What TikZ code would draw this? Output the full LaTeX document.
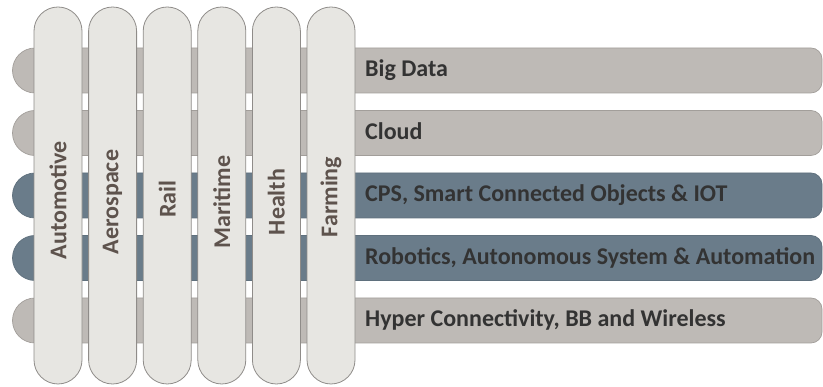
\documentclass[tikz,border=0pt]{standalone}
\usepackage{fontspec}
\setmainfont{Carlito}
\definecolor{vfill}{HTML}{E7E6E2}
\definecolor{vline}{HTML}{8F8C89}
\definecolor{lfill}{HTML}{BEBAB6}
\definecolor{lline}{HTML}{A29E9A}
\definecolor{dfill}{HTML}{6A7C8A}
\definecolor{dline}{HTML}{5F707D}
\definecolor{htext}{HTML}{333333}
\definecolor{vtext}{HTML}{5E534D}
\tikzset{
  lightbar/.style={fill=lfill, draw=lline, line width=0.7pt},
  darkbar/.style={fill=dfill, draw=dline, line width=0.7pt},
  vbar/.style={fill=vfill, draw=vline, line width=0.8pt, rounded corners=24pt},
  htxt/.style={anchor=base west, inner sep=0pt, font=\fontsize{24}{26}\selectfont\bfseries, text=htext},
  vtxt/.style={rotate=90, anchor=center, inner sep=0pt, font=\fontsize{24}{26}\selectfont\bfseries, text=vtext},
}
\newcommand{\hbarpath}[2]{% #1 style, #2 bottom y
  \draw[#1] (35pt,#2) arc[start angle=270, end angle=90, radius=22.5pt]
    -- (811pt,#2+45pt) arc[start angle=90, end angle=0, radius=11pt]
    -- (822pt,#2+11pt) arc[start angle=0, end angle=-90, radius=11pt] -- cycle;}
\begin{document}
\begin{tikzpicture}[x=1pt,y=1pt]
\useasboundingbox (0,0) rectangle (823,387);
% horizontal bars (bottom y in page coords)
\hbarpath{lightbar}{294pt}
\hbarpath{lightbar}{231.5pt}
\hbarpath{darkbar}{169pt}
\hbarpath{darkbar}{106.5pt}
\hbarpath{lightbar}{44pt}
% labels of horizontal bars
\node[htxt] (bigdata) at (365,310) {Big Data};
\node[htxt] (cloud) at (365,247.5) {Cloud};
\node[htxt] (cps) at (365,185) {CPS, Smart Connected Objects \& IOT};
\node[htxt] (robotics) at (365,122.5) {Robotics, Autonomous System \& Automation};
\node[htxt] (hyper) at (365,60) {Hyper Connectivity, BB and Wireless};
% vertical bars
\foreach \i/\name/\txt/\cy in {0/auto/Automotive/187,1/aero/Aerospace/185,2/rail/Rail/188,3/mari/Maritime/185,4/health/Health/185,5/farm/Farming/190}{
  \pgfmathsetmacro{\xl}{34+\i*54.6}
  \draw[vbar] (\xl,3) rectangle (\xl+48,380);
  \node[vtxt] (\name) at (\xl+24,\cy) {\txt};
}
\end{tikzpicture}
\end{document}
